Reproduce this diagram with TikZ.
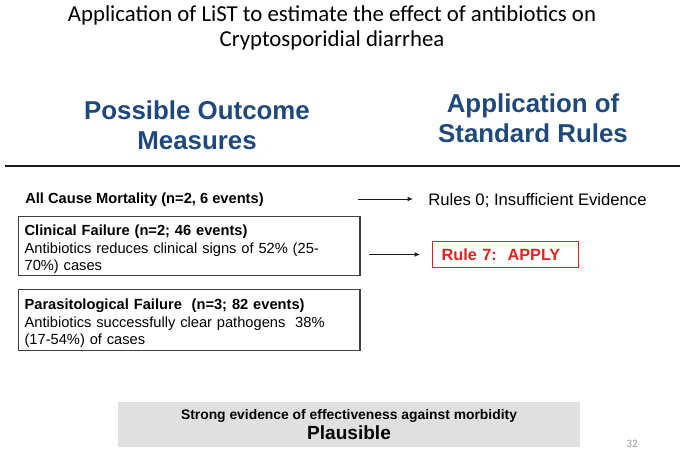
\documentclass[tikz,border=0pt]{standalone}
\usepackage{fontspec}
\setmainfont{Liberation Sans}
\newfontfamily\titlefont{Carlito}
\usepackage{tikz}
\usepackage{xcolor}
\usetikzlibrary{arrows.meta,positioning,calc}
\definecolor{ink}{HTML}{1A1A1A}
\definecolor{boxline}{HTML}{404040}
\definecolor{headblue}{HTML}{1F497D}
\definecolor{rulered}{HTML}{E8201A}
\definecolor{verdictbg}{HTML}{E0E0E0}
\definecolor{pagegray}{HTML}{9A9A9A}
\tikzset{
  headtext/.style={text=headblue,align=center,
                   font=\fontsize{19.4}{22.5}\selectfont\bfseries},
  outbox/.style={draw=boxline,line width=0.9pt,anchor=north west,
                 minimum width=256pt,minimum height=44.25pt,
                 text width=247pt,align=left,inner xsep=4.5pt,inner ysep=1pt,
                 font=\fontsize{11}{13}\selectfont},
  redbox/.style={draw=rulered,line width=0.9pt,text=rulered,
                 text width=96pt,align=left,minimum height=20pt,
                 inner xsep=6.75pt,inner ysep=3pt,
                 font=\fontsize{12.2}{13}\selectfont\bfseries},
  flowarr/.style={-{Latex[length=4pt,width=3.5pt]},line width=0.7pt,color=ink}
}

\begin{document}
\begin{tikzpicture}[x=0.75pt,y=-0.75pt]
  \useasboundingbox (0,0) rectangle (685,453);
  % title
  \node[align=center,font=\titlefont\fontsize{17.1}{18.5}\selectfont] (title) at (332,28)
    {Application of LiST to estimate the effect of antibiotics on\\Cryptosporidial diarrhea};

  % column heads
  \node[headtext] (outhead) at (197,125) {Possible Outcome\\Measures};
  \node[headtext] (rulehead) at (533,118) {Application of\\Standard Rules};
  \draw[line width=0.8pt,color=ink] (5,166) -- (680,166);

  % outcome measures
  \node[anchor=west,inner sep=0pt,font=\fontsize{11}{12}\selectfont\bfseries] (mortality) at (25,200)
    {All Cause Mortality (n=2, 6 events)};
  \node[outbox] (clinical) at (18,216)
    {\rule{0pt}{13pt}\textbf{Clinical Failure (n=2; 46 events)}\\
     Antibiotics reduces clinical signs of 52\% (25-\\70\%) cases};
  \node[outbox,minimum height=45.75pt] (parasit) at (18,289)
    {\rule{0pt}{13pt}\textbf{Parasitological Failure\ \ (n=3; 82 events)}\\
     Antibiotics successfully clear pathogens\ \ 38\%\\(17-54\%) of cases};

  % rules
  \node[anchor=west,inner sep=0pt,font=\fontsize{12.5}{13}\selectfont] (insuff) at (428,201)
    {Rules 0; Insufficient Evidence};
  \node[redbox,anchor=west] (ruleseven) at (432,254.5) {Rule 7:\ \ APPLY};
  \coordinate (mortarr) at (358,199);
  \draw[flowarr] (mortarr) -- ($(insuff.west)+(-15,-2)$);
  \draw[flowarr,shorten <=6pt,shorten >=9pt] (clinical.east |- ruleseven.west) -- (ruleseven.west);

  % verdict
  \node[fill=verdictbg,minimum width=346.5pt,minimum height=34pt,align=center,inner sep=2pt] (verdict) at (349,424.5)
    {{\fontsize{10.4}{12}\selectfont\bfseries Strong evidence of effectiveness against morbidity}\\[1pt]
     {\fontsize{14.3}{15}\selectfont\bfseries Plausible}};
  \node[text=pagegray,font=\titlefont\fontsize{8.5}{9}\selectfont] (pagenum) at (632,444) {32};
\end{tikzpicture}
\end{document}
